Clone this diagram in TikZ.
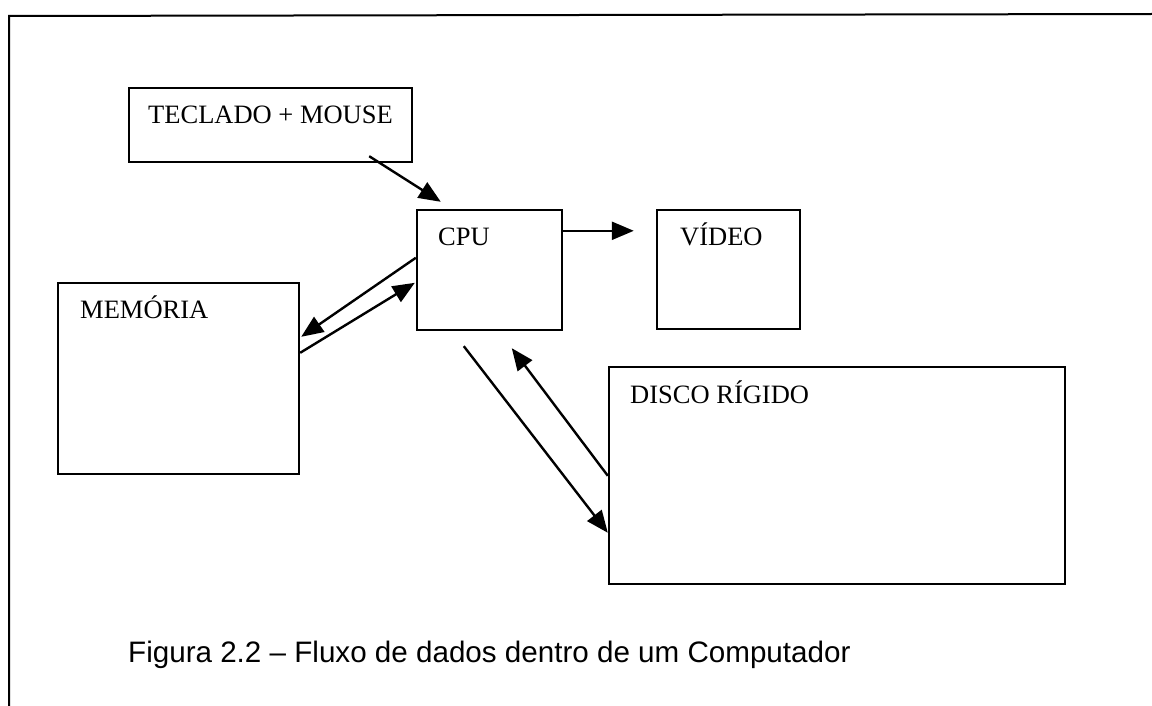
\documentclass[tikz,border=0pt]{standalone}
\usepackage{fontspec}
\setmainfont{Liberation Serif}
\newfontfamily\capfont{Liberation Sans}
\usetikzlibrary{arrows.meta,calc}
\tikzset{
  box/.style={draw=black, line width=2.4pt, rectangle, inner sep=0pt},
  lbl/.style={anchor=base west, inner sep=0pt, font=\fontsize{26.5}{30}\selectfont},
  conn/.style={line width=2.4pt, -{Triangle[length=22pt,width=18pt]}},
  frame/.style={line width=2pt}
}
\begin{document}
\begin{tikzpicture}[x=1pt,y=-1pt]
\useasboundingbox (0,0) rectangle (1152,706);
\coordinate (fTL) at (9,16);
\coordinate (fTR) at (1152,14);
\coordinate (fBL) at (9,706);
\draw[frame] (fTR) -- (fTL) -- (fBL);

\node[box, minimum width=283pt, minimum height=74pt] (tec) at (270.5,125) {};
\node[box, minimum width=145pt, minimum height=120pt] (cpu) at (489.5,270) {};
\node[box, minimum width=143pt, minimum height=119pt] (vid) at (728.5,269.5) {};
\node[box, minimum width=241pt, minimum height=191pt] (mem) at (178.5,378.5) {};
\node[box, minimum width=456pt, minimum height=217pt] (dis) at (837,475.5) {};

\node[lbl] (tecl) at (148,124) {TECLADO + MOUSE};
\node[lbl] (cpul) at (438,245) {CPU};
\node[lbl] (vidl) at (680,245) {VÍDEO};
\node[lbl] (meml) at (80,318) {MEMÓRIA};
\node[lbl] (disl) at (630,403) {DISCO RÍGIDO};

\draw[conn] ($(tec.south east)+(-44,-7)$) -- ($(cpu.north west)+(25,-7)$);
\draw[conn] ($(cpu.north east)+(0,22)$) -- ($(vid.north west)+(-22,22)$);
\draw[conn] ($(cpu.north west)+(0,49)$) -- ($(mem.north east)+(1,55)$);
\draw[conn] ($(mem.north east)+(0,71)$) -- ($(cpu.north west)+(-1,74)$);
\draw[conn] ($(cpu.south west)+(48,15)$) -- ($(dis.north west)+(0,167)$);
\draw[conn] ($(dis.north west)+(0,110)$) -- ($(cpu.south west)+(96,17)$);

\node[anchor=base west, inner sep=0pt, font=\capfont\fontsize{29.6}{33}\selectfont] (cap) at (128,662) {Figura 2.2 – Fluxo de dados dentro de um Computador};
\end{tikzpicture}
\end{document}
